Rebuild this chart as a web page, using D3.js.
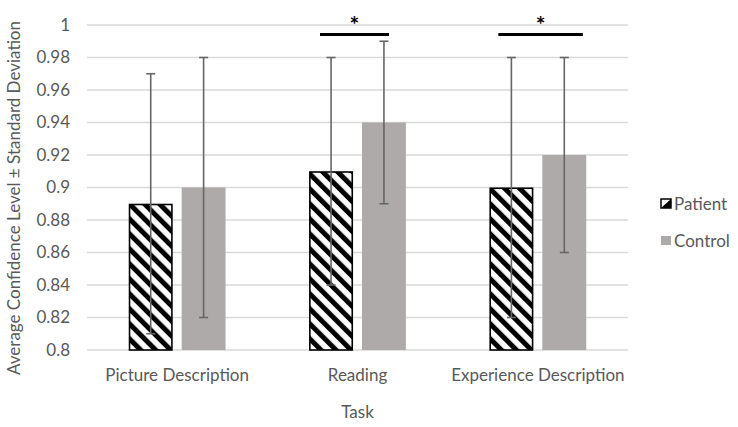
<!DOCTYPE html>
<html>
<head>
<meta charset="utf-8">
<script src="https://cdn.jsdelivr.net/npm/d3@7/dist/d3.min.js"></script>
<style>
  html, body { margin: 0; padding: 0; background: #fff; }
  svg { display: block; font-family: Lato, "Open Sans", sans-serif; }
</style>
</head>
<body>
<svg id="chart" width="738" height="427"></svg>
<script>
// ---- data ----
const categories = ["Picture Description", "Reading", "Experience Description"];
const seriesNames = ["Patient", "Control"];
const patientMeans = [0.89, 0.91, 0.90];
const patientSD = [0.08, 0.07, 0.08];
const controlMeans = [0.90, 0.94, 0.92];
const controlSD = [0.08, 0.05, 0.06];
const yTicks = [0.8, 0.82, 0.84, 0.86, 0.88, 0.9, 0.92, 0.94, 0.96, 0.98, 1];
const significant = ["Reading", "Experience Description"];
const xTitle = "Task";
const yTitle = "Average Confidence Level \u00b1 Standard Deviation";

// layout (not data): horizontal extent of significance lines, relative to the group centre
const sigSpans = [[-37.5, 31.5], [-39.5, 45]];

const svg = d3.select("#chart");
const W = 738, H = 427;
const margin = { left: 87, right: 110, top: 25, bottom: 77 };
const plotL = margin.left, plotR = W - margin.right, plotT = margin.top, plotB = H - margin.bottom;
const FS = 17;

const x = d3.scaleBand().domain(categories).range([plotL, plotR]).paddingInner(0).paddingOuter(0);
const xInner = d3.scaleBand().domain(seriesNames).range([0, x.bandwidth()]).paddingInner(0.17).paddingOuter(0.79);
const y = d3.scaleLinear().domain([0.8, 1]).range([plotB, plotT]);

const textColor = "#595959";
const gridColor = "#d9d9d9";
const controlColor = "#aeaaaa";
const errColor = "#666666";

// hatch pattern
const defs = svg.append("defs");
const pat = defs.append("pattern")
  .attr("id", "hatch")
  .attr("patternUnits", "userSpaceOnUse")
  .attr("width", 10.6).attr("height", 10.6)
  .attr("patternTransform", "rotate(-45)");
pat.append("rect").attr("width", 10.6).attr("height", 10.6).attr("fill", "#fff");
pat.append("rect").attr("x", 0).attr("width", 5).attr("height", 10.6).attr("fill", "#000");

// gridlines
svg.append("g").selectAll("line").data(yTicks).join("line")
  .attr("x1", plotL).attr("x2", plotR)
  .attr("y1", d => y(d)).attr("y2", d => y(d))
  .attr("stroke", gridColor).attr("stroke-width", 1.3);

// y axis labels
const yAxis = d3.axisLeft(y).tickValues(yTicks).tickSize(0).tickPadding(0)
  .tickFormat(d => String(+d.toFixed(2)));
const yg = svg.append("g").attr("transform", `translate(${plotL - 17},0)`).call(yAxis);
yg.select(".domain").remove();
yg.selectAll("text").attr("fill", textColor).attr("font-size", FS).attr("font-family", "Lato, sans-serif");

// x axis labels
const xAxis = d3.axisBottom(x).tickSize(0).tickPadding(0);
const xg = svg.append("g").attr("transform", `translate(0,${plotB})`).call(xAxis);
xg.select(".domain").remove();
xg.selectAll("text").attr("fill", textColor).attr("font-size", FS).attr("font-family", "Lato, sans-serif")
  .attr("dy", null).attr("y", 31);

// bars
const rows = categories.map((c, i) => ({
  cat: c,
  vals: [
    { s: "Patient", m: patientMeans[i], sd: patientSD[i] },
    { s: "Control", m: controlMeans[i], sd: controlSD[i] }
  ]
}));

const groups = svg.append("g").selectAll("g").data(rows).join("g")
  .attr("transform", d => `translate(${x(d.cat)},0)`);

groups.selectAll("rect").data(d => d.vals).join("rect")
  .attr("x", d => xInner(d.s) + (d.s === "Patient" ? 0.75 : 0))
  .attr("width", d => xInner.bandwidth() - (d.s === "Patient" ? 1.5 : 0))
  .attr("y", d => y(d.m) + (d.s === "Patient" ? 0.75 : 0))
  .attr("height", d => y(0.8) - y(d.m) - (d.s === "Patient" ? 0.75 : 0))
  .attr("fill", d => d.s === "Patient" ? "url(#hatch)" : controlColor)
  .attr("stroke", d => d.s === "Patient" ? "#000" : "none")
  .attr("stroke-width", 1.6);

// error bars
const eb = groups.selectAll("g.err").data(d => d.vals).join("g").attr("class", "err")
  .attr("transform", d => `translate(${xInner(d.s) + xInner.bandwidth() / 2},0)`);
eb.append("line").attr("x1", 0).attr("x2", 0)
  .attr("y1", d => y(d.m + d.sd)).attr("y2", d => y(d.m - d.sd))
  .attr("stroke", errColor).attr("stroke-width", 1.6);
eb.append("line").attr("x1", -4.5).attr("x2", 4.5)
  .attr("y1", d => y(d.m + d.sd)).attr("y2", d => y(d.m + d.sd))
  .attr("stroke", errColor).attr("stroke-width", 1.6);
eb.append("line").attr("x1", -4.5).attr("x2", 4.5)
  .attr("y1", d => y(d.m - d.sd)).attr("y2", d => y(d.m - d.sd))
  .attr("stroke", errColor).attr("stroke-width", 1.6);

// significance markers
const sig = svg.append("g").selectAll("g").data(significant).join("g")
  .attr("transform", d => `translate(${x(d) + x.bandwidth() / 2},0)`);
sig.append("line")
  .attr("x1", (d, i) => sigSpans[i][0]).attr("x2", (d, i) => sigSpans[i][1])
  .attr("y1", 34.5).attr("y2", 34.5)
  .attr("stroke", "#000").attr("stroke-width", 3);
sig.append("text")
  .attr("x", (d, i) => (sigSpans[i][0] + sigSpans[i][1]) / 2).attr("y", 33)
  .attr("text-anchor", "middle")
  .attr("font-size", 23).attr("font-weight", "bold").attr("fill", "#000")
  .text("*");

// axis titles
svg.append("text").attr("x", (plotL + plotR) / 2).attr("y", 418)
  .attr("text-anchor", "middle").attr("fill", textColor).attr("font-size", FS)
  .text(xTitle);
svg.append("text")
  .attr("transform", `translate(20,198) rotate(-90)`)
  .attr("text-anchor", "middle")
  .attr("fill", textColor).attr("font-size", FS)
  .text(yTitle);

// legend
const lg = svg.append("g").selectAll("g").data(seriesNames).join("g")
  .attr("transform", (d, i) => `translate(661,${199 + i * 37})`);
lg.append("rect").attr("width", 10).attr("height", 9)
  .attr("fill", d => d === "Patient" ? "#fff" : controlColor)
  .attr("stroke", d => d === "Patient" ? "#000" : "none").attr("stroke-width", 1.5);
lg.filter(d => d === "Patient").append("path")
  .attr("d", "M10,0 L10,9 L0,9 Z").attr("fill", "#000");
lg.append("text").attr("x", 13).attr("y", 4.5).attr("dominant-baseline", "central")
  .attr("fill", textColor).attr("font-size", FS).text(d => d);
</script>
</body>
</html>
